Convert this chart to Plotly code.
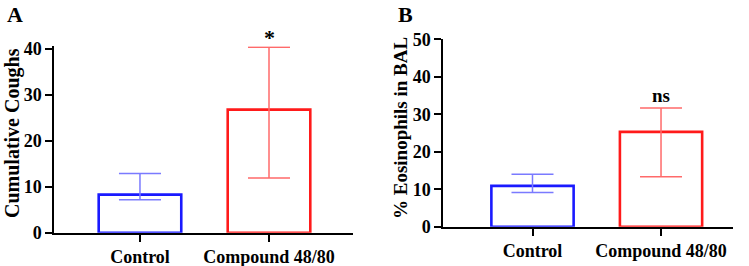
import plotly.graph_objects as go

categories = ["Control", "Compound 48/80"]

coughs_mean = [8.3, 26.8]
coughs_err_plus = [4.6, 13.6]
coughs_err_minus = [1.1, 14.9]

eos_mean = [10.9, 25.3]
eos_err_plus = [3.1, 6.4]
eos_err_minus = [1.8, 12.0]

bar_colors = ["#1a1aff", "#ff1a1a"]
err_colors = ["#7a7aff", "#ff6a6a"]

W, H = 749, 266
FONT = "Liberation Serif"

fig = go.Figure()

def add_bars(means, plus, minus, xa, ya):
    for i, cat in enumerate(categories):
        fig.add_trace(go.Bar(
            x=[cat], y=[means[i]],
            width=0.64,
            marker=dict(color="white", line=dict(color=bar_colors[i], width=2.6)),
            error_y=dict(type="data", symmetric=False, array=[plus[i]], arrayminus=[minus[i]],
                         color=err_colors[i], thickness=1.5, width=21),
            xaxis=xa, yaxis=ya, showlegend=False,
        ))

add_bars(coughs_mean, coughs_err_plus, coughs_err_minus, "x", "y")
add_bars(eos_mean, eos_err_plus, eos_err_minus, "x2", "y2")

def px_x(p):
    return p / W

def px_y(p):
    return 1 - p / H

axis_common = dict(
    showline=True, linecolor="black", linewidth=2,
    ticks="outside", tickcolor="black", tickwidth=2, ticklen=7,
    showgrid=False, zeroline=False, automargin=False,
    tickfont=dict(family=FONT, size=18, color="black", weight="bold"),
)

# Panel A: 0 at y=232.7, 40 at y=49 -> 4.59 px/unit; extend to 40.6
a_top = 49 - 0.6 * 4.5925
fig.update_layout(
    xaxis=dict(domain=[px_x(54.3), px_x(353)], range=[-0.664, 1.651], type="category",
               anchor="y", **axis_common),
    yaxis=dict(domain=[px_y(232.7), px_y(a_top)], range=[0, 40.6], tickvals=[0, 10, 20, 30, 40],
               anchor="x", **axis_common),
    xaxis2=dict(domain=[px_x(443.3), px_x(733)], range=[-0.694, 1.56], type="category",
                anchor="y2", **axis_common),
    yaxis2=dict(domain=[px_y(226.7), px_y(39.3)], range=[0, 50], tickvals=[0, 10, 20, 30, 40, 50],
                anchor="x2", **axis_common),
    width=W, height=H,
    margin=dict(l=0, r=0, t=0, b=0),
    plot_bgcolor="white", paper_bgcolor="white",
    barmode="overlay",
)

def label(x, y, text, size, xref="paper", angle=0):
    fig.add_annotation(x=x, y=px_y(y), xref=xref, yref="paper", text=text, showarrow=False,
                       xanchor="center", yanchor="middle", textangle=angle,
                       font=dict(family=FONT, size=size, color="black", weight="bold"))

label("Compound 48/80", 37, "*", 22, xref="x")
label("Compound 48/80", 95, "ns", 19, xref="x2")
label(px_x(15), 15, "A", 22)
label(px_x(405), 15, "B", 22)
label(px_x(12), 133, "Cumulative Coughs", 20, angle=-90)
label(px_x(400), 128, "% Eosinophils in BAL", 19, angle=-90)

fig.write_html("out.html", config={"displayModeBar": False},
               post_script="document.body.style.margin='0';document.body.style.overflow='hidden';")
